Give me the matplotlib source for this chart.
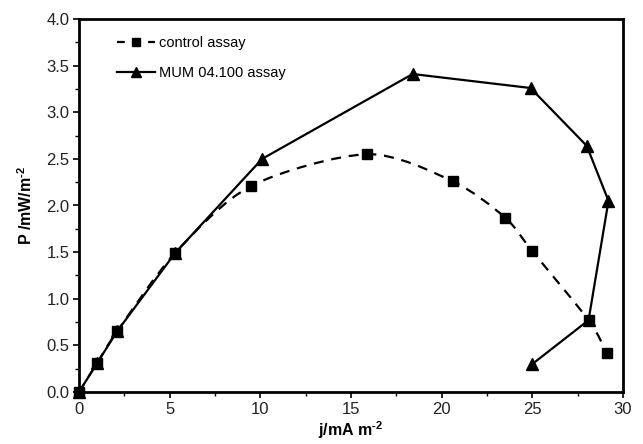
import matplotlib
matplotlib.use("Agg")
import matplotlib.pyplot as plt
import numpy as np
from matplotlib.path import Path
from matplotlib.patches import PathPatch
from matplotlib.lines import Line2D

plt.rcParams['font.family'] = ['Liberation Sans', 'DejaVu Sans']
plt.rcParams['mathtext.fontset'] = 'custom'
plt.rcParams['mathtext.rm'] = 'Liberation Sans:bold'
plt.rcParams['mathtext.bf'] = 'Liberation Sans:bold'

control_j = [0, 1.0, 2.1, 5.3, 9.5, 15.9, 20.6, 23.5, 25.0, 28.1, 29.1]
control_P = [0, 0.31, 0.65, 1.49, 2.21, 2.55, 2.26, 1.87, 1.51, 0.77, 0.42]
mum_j = [0, 1.0, 2.1, 5.3, 10.1, 18.4, 24.9, 28.0, 29.2, 28.1, 25.0]
mum_P = [0, 0.31, 0.65, 1.49, 2.50, 3.41, 3.26, 2.64, 2.05, 0.77, 0.30]

fig = plt.figure(figsize=(6.43, 4.44), dpi=100)
ax = fig.add_axes([79/643, 1-392/444, (623-79)/643, (392-19)/444])

# smoothed dashed line (Bezier through the points, like spreadsheet smoothing)
x = np.array(control_j, float); y = np.array(control_P, float)
verts = [(x[0], y[0])]; codes = [Path.MOVETO]
t = 1/7
n = len(x)
for i in range(n-1):
    p0 = (x[max(i-1, 0)], y[max(i-1, 0)])
    p1 = (x[i], y[i]); p2 = (x[i+1], y[i+1])
    p3 = (x[min(i+2, n-1)], y[min(i+2, n-1)])
    c1 = (p1[0] + (p2[0]-p0[0])*t, p1[1] + (p2[1]-p0[1])*t)
    c2 = (p2[0] - (p3[0]-p1[0])*t, p2[1] - (p3[1]-p1[1])*t)
    verts += [c1, c2, p2]; codes += [Path.CURVE4]*3
patch = PathPatch(Path(verts, codes), facecolor='none', edgecolor='black',
                  lw=1.6, linestyle=(0, (4.5, 3.5)), zorder=2)
ax.add_patch(patch)
ax.plot(control_j, control_P, linestyle='none', marker='s', ms=6.5,
        color='black', zorder=3, clip_on=False)
ax.plot(mum_j, mum_P, '-', marker='^', ms=8, color='black', lw=1.6,
        zorder=3, clip_on=False)

ax.set_xlim(0, 30)
ax.set_ylim(0, 4.0)
ax.set_xticks([0, 5, 10, 15, 20, 25, 30])
ax.set_xticks(np.arange(0, 30.1, 2.5), minor=True)
ax.set_yticks(np.arange(0, 4.01, 0.5))
ax.set_yticks(np.arange(0, 4.01, 0.25), minor=True)
ax.yaxis.set_major_formatter(matplotlib.ticker.FormatStrFormatter('%.1f'))
for s in ax.spines.values():
    s.set_linewidth(2)
ax.tick_params(which='major', direction='out', length=4, width=1.2,
               labelsize=12, colors='black', labelcolor='#222222', pad=3)
ax.tick_params(which='minor', direction='out', length=3, width=1)
ax.set_xlabel('j/mA m$^{\\text{-2}}$', fontsize=11.5, fontweight='bold', labelpad=2)
ax.set_ylabel('P /mW/m$^{\\text{-2}}$', fontsize=11.5, fontweight='bold', labelpad=8)

handles = [Line2D([], [], color='black', lw=1.6, linestyle=(0, (3.5, 3.5)), marker='s', ms=6),
           Line2D([], [], color='black', lw=1.6, marker='^', ms=7)]
ax.legend(handles, ['control assay', 'MUM 04.100 assay'], loc='upper left',
          frameon=False, fontsize=10.5, handlelength=2.6, handletextpad=0.3,
          labelspacing=1.1, bbox_to_anchor=(0.045, 0.99))

fig.savefig('out.png', dpi=100)
